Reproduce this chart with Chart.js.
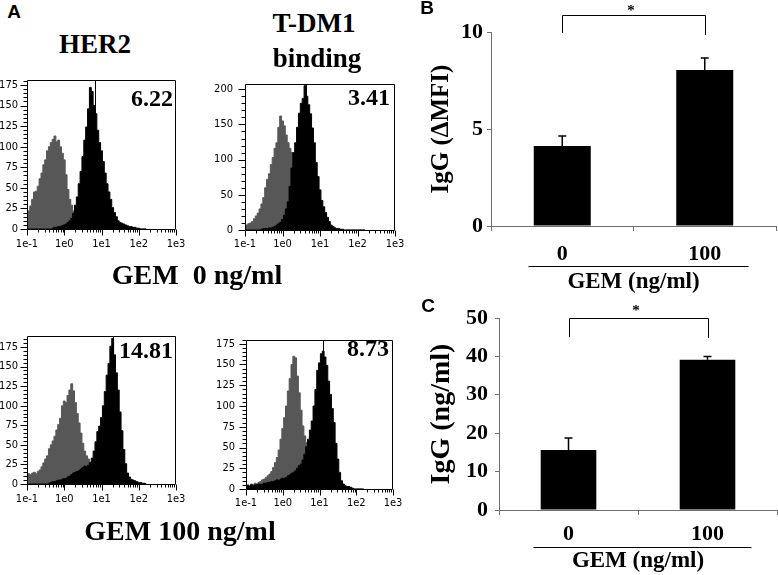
<!DOCTYPE html>
<html><head><meta charset="utf-8">
<script src="https://cdn.jsdelivr.net/npm/chart.js@4.4.1/dist/chart.umd.min.js"></script>
<style>
html,body{margin:0;padding:0;background:#fff;}
#fig{position:relative;width:778px;height:575px;overflow:hidden;background:#fff;}
canvas{position:absolute;}
.t{position:absolute;font-family:'Liberation Serif','Times New Roman',serif;font-weight:bold;line-height:1;white-space:pre;transform:translate(-50%,-50%);color:#000;}
.r{transform:translate(-100%,-50%);}
.p{font-family:'Liberation Sans',Arial,sans-serif;font-size:19px;}
</style></head><body>
<div id="fig">
<canvas id="h1" width="190" height="190" style="left:0px;top:70px;width:190px;height:190px"></canvas>
<canvas id="h2" width="200" height="190" style="left:208px;top:72px;width:200px;height:190px"></canvas>
<canvas id="h3" width="190" height="190" style="left:0px;top:326px;width:190px;height:190px"></canvas>
<canvas id="h4" width="200" height="192" style="left:209px;top:329px;width:200px;height:192px"></canvas>
<canvas id="cb" width="358" height="300" style="left:420px;top:0px;width:358px;height:300px"></canvas>
<canvas id="cc" width="358" height="285" style="left:420px;top:290px;width:358px;height:285px"></canvas>

<div class="t p" style="left:14px;top:11px">A</div>
<div class="t p" style="left:427px;top:7px">B</div>
<div class="t p" style="left:428px;top:305px">C</div>

<div class="t" style="left:95px;top:44px;font-size:27px">HER2</div>
<div class="t" style="left:314px;top:23px;font-size:27px">T-DM1</div>
<div class="t" style="left:317px;top:58px;font-size:27px">binding</div>
<div class="t" style="left:197px;top:275px;font-size:28px">GEM  0 ng/ml</div>
<div class="t" style="left:180px;top:531px;font-size:28px">GEM 100 ng/ml</div>

<div class="t r" style="left:173px;top:98px;font-size:24px">6.22</div>
<div class="t r" style="left:390px;top:97px;font-size:24px">3.41</div>
<div class="t r" style="left:173px;top:350px;font-size:24px">14.81</div>
<div class="t r" style="left:389px;top:348px;font-size:24px">8.73</div>
</div>
<script>
// ---- Flow cytometry histograms: bin positions (log10 of fluorescence) ----
const fluorBins = [-1.00,-0.95,-0.90,-0.85,-0.80,-0.75,-0.70,-0.65,-0.60,-0.55,
 -0.50,-0.45,-0.40,-0.35,-0.30,-0.25,-0.20,-0.15,-0.10,-0.05,
 0.00,0.05,0.10,0.15,0.20,0.25,0.30,0.35,0.40,0.45,
 0.50,0.55,0.60,0.65,0.70,0.75,0.80,0.85,0.90,0.95,
 1.00,1.05,1.10,1.15,1.20,1.25,1.30,1.35,1.40,1.45,
 1.50,1.55,1.60,1.65,1.70,1.75,1.80,1.85,1.90,1.95,
 2.00,2.05,2.10,2.15,2.20];
const fluorTickLabels = ['1e-1','1e0','1e1','1e2','1e3'];

// HER2, GEM 0 ng/ml
const her2Gem0Ctrl = [17,22,28,36,45,46,52,61,68,78, 84,95,100,105,109,113,106,108,100,92,
 84,66,48,36,29,22,16,11,8,5, 3,2,1,0,0,0,0,0,0,0, 0,0,0,0,0,0,0,0,0,0, 0,0,0,0,0,0,0,0,0,0, 0,0,0,0,0];
const her2Gem0Stain = [0,0,0,0,0,0,0,0,0,0, 0,0,0,0,1,2,2,3,3,4, 5,6,8,10,13,19,29,39,55,70,
 88,108,124,146,172,167,150,140,120,105, 95,82,68,55,45,36,26,20,15,10, 8,7,6,5,4,3,3,2,2,1, 1,0,0,0,0];
// T-DM1 binding, GEM 0 ng/ml
const tdm1Gem0Ctrl = [8,7,9,10,12,16,20,24,30,37, 46,60,72,80,93,103,116,124,146,162,
 155,148,135,124,116,110,98,84,70,58, 46,35,26,18,12,8,5,3,2,1, 0,0,0,0,0,0,0,0,0,0, 0,0,0,0,0,0,0,0,0,0, 0,0,0,0,0];
const tdm1Gem0Stain = [0,0,0,0,0,0,0,0,0,1, 2,2,2,3,3,4,5,7,9,11, 15,21,30,40,62,88,110,124,146,166,
 180,187,205,190,178,165,145,124,96,76, 57,42,33,25,18,12,7,5,3,2, 2,1,1,0,0,0,0,0,0,0, 0,0,0,0,0];
// HER2, GEM 100 ng/ml
const her2Gem100Ctrl = [11,13,12,14,15,13,16,18,22,27, 32,36,45,50,55,61,69,76,84,100,
 106,104,113,120,128,119,104,90,78,65, 52,42,36,32,28,24,18,13,9,6, 4,2,1,0,0,0,0,0,0,0, 0,0,0,0,0,0,0,0,0,0, 0,0,0,0,0];
const her2Gem100Stain = [0,0,0,0,0,0,0,0,0,0, 0,0,1,2,3,3,4,5,5,6, 7,7,9,10,12,14,15,16,17,19,
 21,23,22,24,27,33,42,54,67,74, 85,100,118,139,154,176,186,165,142,120, 92,68,44,26,14,9,6,5,4,3, 2,2,1,1,0];
// T-DM1 binding, GEM 100 ng/ml
const tdm1Gem100Ctrl = [3,5,4,6,5,7,6,8,9,11, 12,14,16,18,21,26,32,38,47,60,
 73,86,100,118,133,150,160,158,136,116, 95,76,64,56,46,36,27,19,13,8, 5,3,2,1,0,0,0,0,0,0, 0,0,0,0,0,0,0,0,0,0, 0,0,0,0,0];
const tdm1Gem100Stain = [3,4,3,5,4,5,5,6,5,6, 7,7,8,8,9,9,10,11,10,12, 13,13,14,16,17,19,20,22,25,28,
 30,35,42,51,60,71,82,100,120,143, 152,163,166,159,149,130,114,97,80,55, 36,20,10,6,4,3,3,2,1,0, 0,0,0,0,0];
// vertical gate marker positions (fluorescence units)
const markerPos = [6.5, 4.2, 20, 12.4];

// ---- Bar panels ----
const gemDoses = ['0', '100'];
const igGDeltaMFI = [4.12, 8.04];
const igGDeltaMFIErr = [0.52, 0.62];
const igGConc = [15.6, 39.1];
const igGConcErr = [3.15, 0.85];

const SERIF = "'Liberation Serif','Times New Roman',serif";
const TICKF = "'DejaVu Sans Condensed','Liberation Sans Narrow','DejaVu Sans',sans-serif";
const GRAY = '#575757';
const AXIS = '#707070';

const flowDecor = {
  id: 'flowDecor',
  afterDatasetsDraw(chart, args, o) {
    const {ctx, chartArea: a, scales: {x, y}} = chart;
    ctx.save();
    ctx.strokeStyle = '#000';
    ctx.lineWidth = 1;
    const L = Math.round(a.left) + 0.5, R = Math.round(a.right) - 0.5;
    const T = Math.round(a.top) + 0.5, B = Math.round(a.bottom) + 0.5;
    ctx.beginPath();
    const mx = Math.round(x.getPixelForValue(Math.log10(o.marker))) + 0.5;
    ctx.moveTo(mx, T); ctx.lineTo(mx, B);
    ctx.rect(L, T, R - L, B - T);
    for (let v = 0; v <= o.ymax; v += o.minor) {
      const py = Math.round(y.getPixelForValue(v)) + 0.5;
      const len = (v % o.major === 0) ? 7 : 4;
      ctx.moveTo(L - len, py); ctx.lineTo(L, py);
    }
    for (let n = -1; n <= 3; n++) {
      for (let m = 1; m <= 9; m++) {
        if (n === 3 && m > 1) break;
        const e = n + Math.log10(m);
        const px = Math.round(x.getPixelForValue(e)) + 0.5;
        const len = m === 1 ? 6 : 3;
        ctx.moveTo(px, B); ctx.lineTo(px, B + len);
      }
    }
    ctx.stroke();
    ctx.restore();
  }
};

function makeHist(id, ctrl, stain, c) {
  new Chart(document.getElementById(id), {
    type: 'line',
    data: {
      datasets: [
        {data: stain.map((v, i) => ({x: fluorBins[i], y: v})), order: 0,
         borderColor: '#000', backgroundColor: '#000', borderWidth: 1,
         pointRadius: 0, fill: 'origin', stepped: 'middle'},
        {data: ctrl.map((v, i) => ({x: fluorBins[i], y: v})), order: 1,
         borderColor: GRAY, backgroundColor: GRAY, borderWidth: 1,
         pointRadius: 0, fill: 'origin', stepped: 'middle'}
      ]
    },
    plugins: [flowDecor],
    options: {
      responsive: false, animation: false, devicePixelRatio: 1,
      layout: {padding: {top: 10, right: c.pr, left: 0, bottom: 0}},
      plugins: {legend: {display: false}, tooltip: {enabled: false},
        flowDecor: {marker: c.marker, ymax: c.ymax, major: c.step, minor: c.minor}},
      scales: {
        x: {type: 'linear', min: -1, max: 3,
          grid: {display: false, tickLength: 7}, border: {display: false},
          ticks: {stepSize: 1, autoSkip: false, maxRotation: 0, color: '#000', padding: c.xpad,
            font: {family: TICKF, size: 11},
            callback: (v) => fluorTickLabels[Math.round(v) + 1]},
          afterFit: (s) => { s.height = c.xh; }},
        y: {type: 'linear', min: 0, max: c.ymax,
          grid: {display: false, tickLength: 7}, border: {display: false},
          ticks: {stepSize: c.step, includeBounds: false, color: '#000', padding: c.ypad,
            font: {family: TICKF, size: 11}},
          afterFit: (s) => { s.width = c.yw; }}
      }
    }
  });
}

makeHist('h1', her2Gem0Ctrl, her2Gem0Stain, {marker: markerPos[0], ymax: 181, step: 25, minor: 5, pr: 14, xh: 31, xpad: 2, ypad: 2, yw: 27});
makeHist('h2', tdm1Gem0Ctrl, tdm1Gem0Stain, {marker: markerPos[1], ymax: 208, step: 50, minor: 10, pr: 13, xh: 32, xpad: 1, ypad: 5, yw: 37});
makeHist('h3', her2Gem100Ctrl, her2Gem100Stain, {marker: markerPos[2], ymax: 189, step: 25, minor: 5, pr: 14, xh: 32, xpad: 2, ypad: 2, yw: 27});
makeHist('h4', tdm1Gem100Ctrl, tdm1Gem100Stain, {marker: markerPos[3], ymax: 180, step: 25, minor: 5, pr: 16, xh: 32, xpad: 1, ypad: 4, yw: 37});

const barDecor = {
  id: 'barDecor',
  afterDatasetsDraw(chart, args, o) {
    const {ctx, chartArea: a, scales: {x, y}} = chart;
    const meta = chart.getDatasetMeta(0);
    const vals = chart.data.datasets[0].data;
    ctx.save();
    ctx.strokeStyle = '#000';
    ctx.lineWidth = 1.5;
    meta.data.forEach((bar, i) => {
      const yt = y.getPixelForValue(vals[i] + o.errs[i]);
      ctx.beginPath();
      ctx.moveTo(bar.x, bar.y); ctx.lineTo(bar.x, yt);
      ctx.moveTo(bar.x - 4, yt); ctx.lineTo(bar.x + 4, yt);
      ctx.stroke();
    });
    ctx.lineWidth = 1;
    const x0 = Math.round(x.getPixelForValue(0)) + 0.5, x1 = Math.round(x.getPixelForValue(1)) + 0.5;
    const yl = Math.round(y.getPixelForValue(o.sig.level)) + 0.5;
    ctx.beginPath();
    ctx.moveTo(x0, y.getPixelForValue(o.sig.ends[0])); ctx.lineTo(x0, yl);
    ctx.lineTo(x1, yl); ctx.lineTo(x1, y.getPixelForValue(o.sig.ends[1]));
    ctx.stroke();
    ctx.fillStyle = '#000';
    ctx.font = 'bold 15px ' + SERIF;
    ctx.textAlign = 'center'; ctx.textBaseline = 'middle';
    ctx.fillText('*', (x0 + x1) / 2 - 3, y.getPixelForValue(o.sig.star));
    const uy = Math.round(a.bottom + o.under.dy) + 0.5;
    ctx.beginPath();
    ctx.moveTo(x0 + o.under.l, uy); ctx.lineTo(x1 + o.under.r, uy);
    ctx.stroke();
    ctx.restore();
  }
};

function makeBar(id, vals, errs, c) {
  const tickFont = {family: SERIF, size: 22, weight: 'bold'};
  new Chart(document.getElementById(id), {
    type: 'bar',
    data: {labels: gemDoses, datasets: [{data: vals, backgroundColor: '#000',
      barPercentage: 0.4, categoryPercentage: 1}]},
    plugins: [barDecor],
    options: {
      responsive: false, animation: false, devicePixelRatio: 1,
      layout: {padding: {top: c.pt, right: c.pr, left: 0, bottom: 0}},
      plugins: {legend: {display: false}, tooltip: {enabled: false},
        barDecor: {errs: errs, sig: c.sig, under: c.under}},
      scales: {
        x: {grid: {display: true, drawOnChartArea: false, offset: true, tickLength: 5, color: AXIS},
          border: {color: AXIS},
          ticks: {font: tickFont, color: '#000', padding: c.xpad},
          title: {display: true, text: 'GEM (ng/ml)', color: '#000',
            font: {family: SERIF, size: 23, weight: 'bold'}, padding: {top: 0, bottom: c.xtpb}},
          afterFit: (s) => { s.height = c.xh; }},
        y: {min: 0, max: c.ymax,
          grid: {display: true, drawOnChartArea: false, tickLength: 4, color: AXIS},
          border: {color: AXIS},
          ticks: {stepSize: c.step, font: tickFont, color: '#000', padding: c.ypad},
          title: {display: true, text: c.ytitle, color: '#000',
            font: {family: SERIF, size: c.ytsize, weight: 'bold'}, padding: {top: c.ytpt, bottom: 0}},
          afterFit: (s) => { s.width = c.yw; }}
      }
    }
  });
}

makeBar('cb', igGDeltaMFI, igGDeltaMFIErr, {
  pt: 32, pr: 2, xh: 74, yw: 71, ymax: 10, step: 5, xpad: 10, ypad: 4, xtpb: 4,
  ytitle: 'IgG (\u0394MFI)', ytsize: 25, ytpt: 7,
  sig: {level: 10.88, ends: [9.95, 9.85], star: 11.1}, under: {dy: 40, l: -34, r: 43}});
makeBar('cc', igGConc, igGConcErr, {
  pt: 28, pr: 1, xh: 65, yw: 79, ymax: 50, step: 10, xpad: 6, ypad: 7, xtpb: 0,
  ytitle: 'IgG (ng/ml)', ytsize: 28, ytpt: 5,
  sig: {level: 50, ends: [45, 44.8], star: 51.8}, under: {dy: 37, l: -36, r: 43}});
</script>
</body></html>
